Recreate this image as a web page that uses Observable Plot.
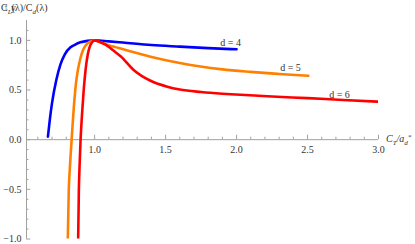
<!DOCTYPE html>
<html>
<head>
<meta charset="utf-8">
<script src="https://cdn.jsdelivr.net/npm/d3@7"></script>
<script src="https://cdn.jsdelivr.net/npm/@observablehq/plot@0.6"></script>
<style>
  html, body { margin: 0; padding: 0; background: #fff; }
  #chart svg { display: block; }
</style>
</head>
<body>
<div id="chart"></div>
<script>
// ---- data ----
const d4x = [0.671, 0.685, 0.70, 0.73, 0.76, 0.79, 0.83, 0.86, 0.90, 0.95, 1.0, 1.1, 1.2, 1.4, 1.6, 1.8, 2.0];
const d4y = [0.03, 0.21, 0.37, 0.60, 0.76, 0.86, 0.93, 0.955, 0.98, 0.995, 1.0, 0.99, 0.978, 0.953, 0.937, 0.922, 0.91];

const d5x = [0.811, 0.818, 0.825, 0.838, 0.857, 0.868, 0.882, 0.90, 0.918, 0.935, 0.953, 0.975, 1.0, 1.05, 1.1, 1.183, 1.25, 1.394, 1.6, 1.746, 1.9, 2.099, 2.3, 2.505];
const d5y = [-1.0, -0.5, -0.3, 0.0, 0.39, 0.56, 0.70, 0.82, 0.90, 0.945, 0.973, 0.99, 1.0, 0.975, 0.952, 0.917, 0.89, 0.836, 0.772, 0.736, 0.708, 0.683, 0.662, 0.643];

const d6x = [0.884, 0.889, 0.893, 0.901, 0.911, 0.921, 0.931, 0.941, 0.952, 0.964, 0.978, 1.0, 1.05, 1.09, 1.13, 1.183, 1.277, 1.394, 1.512, 1.6, 1.75, 1.9, 2.03, 2.25, 2.5, 2.75, 3.0];
const d6y = [-1.0, -0.5, -0.3, 0.0, 0.25, 0.46, 0.63, 0.76, 0.86, 0.93, 0.972, 1.0, 0.975, 0.945, 0.90, 0.84, 0.70, 0.593, 0.533, 0.505, 0.48, 0.463, 0.452, 0.435, 0.418, 0.40, 0.383];

const seriesNames = ["d = 4", "d = 5", "d = 6"];
const seriesColors = ["#0000ff", "#ff8000", "#ff0000"];
const labelX = [1.958, 2.38, 2.725];
const labelY = [0.978, 0.723, 0.453];

const xMajor = [1.0, 1.5, 2.0, 2.5, 3.0];
const xMinor = [0.6, 0.7, 0.8, 0.9, 1.1, 1.2, 1.3, 1.4, 1.6, 1.7, 1.8, 1.9, 2.1, 2.2, 2.3, 2.4, 2.6, 2.7, 2.8, 2.9];
const yMajor = [-1.0, -0.5, 0.0, 0.5, 1.0];
const yMinor = [-0.9, -0.8, -0.7, -0.6, -0.4, -0.3, -0.2, -0.1, 0.1, 0.2, 0.3, 0.4, 0.6, 0.7, 0.8, 0.9, 1.1];

// axis titles as rich-text segments: [text, kind, italic]
const yTitle = [["C", "", false], ["L", "sub", true], ["(λ)/C", "", false], ["d", "sub", true], ["(λ)", "", false]];
const xTitle = [["C", "", true], ["T", "sub", true], ["/a", "", true], ["d", "sub", true], ["*", "sup", true]];

const xDomain = [0.52, 3.0];
const yDomain = [-1.0, 1.2];

// ---- build table ----
const rows = [];
[[d4x, d4y], [d5x, d5y], [d6x, d6y]].forEach(([xs, ys], i) => {
  xs.forEach((x, j) => rows.push({series: seriesNames[i], x, y: ys[j]}));
});
const labels = seriesNames.map((s, i) => ({s, x: labelX[i], y: labelY[i]}));

const axisColor = "#a0a0a0";
const textColor = "#333";
const fam = "Liberation Serif";
const fmt = d3.format(".1f");

const chart = Plot.plot({
  width: 415, height: 244,
  marginLeft: 26, marginRight: 37, marginTop: 20, marginBottom: 5.5,
  style: {background: "#fff"},
  x: {domain: xDomain, axis: null},
  y: {domain: yDomain, axis: null},
  color: {domain: seriesNames, range: seriesColors},
  marks: [
    // axis lines
    Plot.ruleY([0], {stroke: axisColor, strokeWidth: 1}),
    Plot.ruleX([xDomain[0]], {stroke: axisColor, strokeWidth: 1}),
    // x ticks (inside) and labels
    Plot.ruleX(xMajor, {y1: 0, y2: 0.045, stroke: axisColor}),
    Plot.ruleX(xMinor, {y1: 0, y2: 0.025, stroke: axisColor}),
    Plot.text(xMajor, {x: d => d, y: 0, dy: 10, text: d => fmt(d), fill: textColor, fontSize: 10, fontFamily: fam}),
    // y ticks (inside) and labels
    Plot.ruleY(yMajor, {x1: xDomain[0], x2: xDomain[0] + 0.03, stroke: axisColor}),
    Plot.ruleY(yMinor, {x1: xDomain[0], x2: xDomain[0] + 0.017, stroke: axisColor}),
    Plot.axisY(yMajor, {tickSize: 0, tickPadding: 5, tickFormat: fmt, fill: textColor, fontSize: 10, fontFamily: fam}),
    // curves
    Plot.line(rows, {x: "x", y: "y", z: "series", stroke: "series", strokeWidth: 2.6, curve: "monotone-x", clip: true}),
    // series labels
    Plot.text(labels, {x: "x", y: "y", text: "s", fill: textColor, fontSize: 10, fontFamily: fam})
  ]
});

const svg = d3.select(chart);
svg.selectAll("text").style("font-family", "'Liberation Serif', serif");

function richTitle(parts, x, y) {
  const t = svg.append("text")
    .attr("x", x).attr("y", y)
    .attr("text-anchor", "start")
    .attr("fill", textColor)
    .style("font-family", "'Liberation Serif', serif")
    .style("font-size", "10px");
  let shift = 0;
  parts.forEach(([s, kind, ital]) => {
    const target = kind === "sub" ? 2.5 : kind === "sup" ? -3.5 : 0;
    const ts = t.append("tspan").text(s).attr("dy", target - shift);
    shift = target;
    if (kind) ts.style("font-size", "7px");
    if (ital) ts.style("font-style", "italic");
  });
  return t;
}
richTitle(yTitle, 1, 11);
richTitle(xTitle, 386, 142);

document.getElementById("chart").appendChild(chart);
</script>
</body>
</html>
